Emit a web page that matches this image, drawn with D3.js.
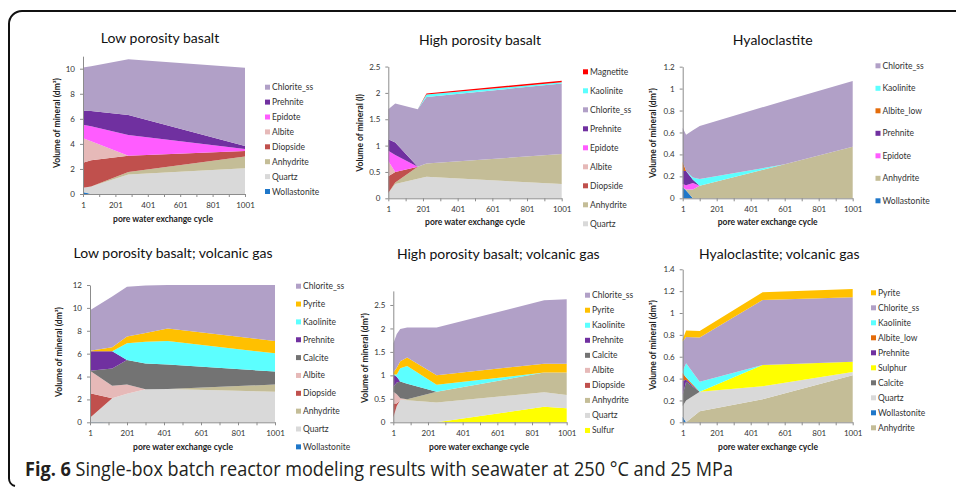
<!DOCTYPE html>
<html>
<head>
<meta charset="utf-8">
<script src="https://cdn.jsdelivr.net/npm/d3@7"></script>
<style>
  body { margin: 0; background: #fff; }
  svg text { font-family: Lato, "Open Sans", sans-serif; }
</style>
</head>
<body>
<svg id="fig" width="956" height="487"></svg>
<script>
// ---- data (stack order bottom -> top) ----
const p1_cycles = [1, 51, 281, 1001];
const p1_minerals = ["Wollastonite", "Quartz", "Anhydrite", "Diopside", "Albite", "Epidote", "Prehnite", "Chlorite_ss"];
const p1_values = [
  [0.15, 0, 0, 0],
  [0.35, 0.6, 1.55, 2.05],
  [0, 0, 0.2, 0.95],
  [2.0, 2.1, 1.3, 0.43],
  [1.95, 1.5, 0, 0],
  [1.08, 1.2, 1.65, 0.17],
  [1.12, 1.22, 1.6, 0.23],
  [3.45, 3.58, 4.45, 6.25]
];

const p2_cycles = [1, 41, 171, 221, 1001];
const p2_minerals = ["Quartz", "Anhydrite", "Diopside", "Albite", "Epidote", "Prehnite", "Chlorite_ss", "Kaolinite", "Magnetite"];
const p2_values = [
  [0.1, 0.27, 0.37, 0.41, 0.27],
  [0, 0.03, 0.23, 0.25, 0.57],
  [0.32, 0.2, 0, 0, 0],
  [0.29, 0, 0, 0, 0],
  [0.19, 0.32, 0, 0, 0],
  [0.22, 0.24, 0, 0, 0],
  [0.57, 0.74, 1.09, 1.26, 1.34],
  [0, 0, 0, 0.05, 0.02],
  [0, 0, 0, 0.02, 0.03]
];

const p3_cycles = [1, 21, 61, 101, 601, 1001];
const p3_minerals = ["Wollastonite", "Anhydrite", "Epidote", "Prehnite", "Albite_low", "Kaolinite", "Chlorite_ss"];
const p3_values = [
  [0.1, 0.07, 0, 0, 0, 0],
  [0, 0.01, 0.08, 0.115, 0.31, 0.47],
  [0.03, 0.04, 0.06, 0, 0, 0],
  [0.12, 0.13, 0.03, 0, 0, 0],
  [0.08, 0, 0, 0, 0, 0],
  [0, 0, 0.02, 0.06, 0, 0],
  [0.31, 0.33, 0.43, 0.485, 0.58, 0.6]
];

const p4_cycles = [1, 121, 201, 301, 421, 1001];
const p4_minerals = ["Wollastonite", "Quartz", "Anhydrite", "Diopside", "Albite", "Calcite", "Prehnite", "Kaolinite", "Pyrite", "Chlorite_ss"];
const p4_values = [
  [0.05, 0, 0, 0, 0, 0],
  [0.35, 2.1, 2.5, 2.88, 2.9, 2.68],
  [0, 0, 0, 0, 0.02, 0.62],
  [2.15, 0, 0, 0, 0, 0],
  [1.95, 1.1, 0.8, 0, 0, 0],
  [0, 1.5, 2.15, 2.27, 2.13, 1.13],
  [1.7, 1.5, 0, 0, 0, 0],
  [0, 0, 1.45, 1.9, 2.05, 1.6],
  [0.05, 0.35, 0.6, 0.75, 1.1, 1.07],
  [3.55, 4.45, 4.35, 4.15, 3.8, 4.9]
];

const p5_cycles = [1, 21, 41, 81, 251, 871, 1001];
const p5_minerals = ["Sulfur", "Quartz", "Anhydrite", "Diopside", "Albite", "Calcite", "Prehnite", "Kaolinite", "Pyrite", "Chlorite_ss"];
const p5_values = [
  [0, 0, 0, 0, 0, 0.33, 0.3],
  [0.1, 0.35, 0.48, 0.47, 0.42, 0.31, 0.28],
  [0, 0, 0, 0.02, 0.23, 0.42, 0.48],
  [0.3, 0.05, 0, 0, 0, 0, 0],
  [0.25, 0.2, 0.03, 0, 0, 0, 0],
  [0.1, 0.25, 0.36, 0.33, 0, 0, 0],
  [0.27, 0.12, 0, 0, 0, 0, 0],
  [0, 0.05, 0.28, 0.38, 0.15, 0, 0],
  [0.04, 0.14, 0.15, 0.18, 0.2, 0.19, 0.19],
  [0.62, 0.72, 0.69, 0.64, 1.02, 1.35, 1.37]
];

const p6_cycles = [1, 21, 101, 471, 1001];
const p6_minerals = ["Anhydrite", "Wollastonite", "Quartz", "Calcite", "Sulphur", "Prehnite", "Albite_low", "Kaolinite", "Chlorite_ss", "Pyrite"];
const p6_values = [
  [0, 0, 0.1, 0.21, 0.43],
  [0.05, 0, 0, 0, 0],
  [0.1, 0.2, 0.18, 0.12, 0.03],
  [0.1, 0.17, 0, 0, 0],
  [0, 0, 0, 0.195, 0.095],
  [0.13, 0.02, 0, 0, 0],
  [0.07, 0.02, 0, 0, 0],
  [0.02, 0.13, 0.09, 0, 0],
  [0.27, 0.24, 0.405, 0.595, 0.59],
  [0.02, 0.06, 0.06, 0.07, 0.075]
];

const titles = ["Low porosity basalt", "High porosity basalt", "Hyaloclastite",
  "Low porosity basalt; volcanic gas", "High porosity basalt; volcanic gas", "Hyaloclastite; volcanic gas"];
const yTicks = [[0, 2, 4, 6, 8, 10], [0, 0.5, 1, 1.5, 2, 2.5], [0, 0.2, 0.4, 0.6, 0.8, 1, 1.2],
  [0, 2, 4, 6, 8, 10, 12], [0, 0.5, 1, 1.5, 2, 2.5], [0, 0.2, 0.4, 0.6, 0.8, 1, 1.2, 1.4]];
const yMax = [11, 2.5, 1.2, 12, 2.8, 1.4];
const yLabels = ["Volume of mineral (dm³)", "Volume of mineral (l)", "Volume of mineral (dm³)",
  "Volume of mineral (dm³)", "Volume of mineral (dm³)", "Volume of mineral (dm³)"];
const xLabel = "pore water exchange cycle";

const colors = {
  Chlorite_ss: "#b1a0c7", Prehnite: "#7030a0", Epidote: "#ff5cff", Albite: "#e6b9b8",
  Diopside: "#c0504d", Anhydrite: "#c4bd97", Quartz: "#d9d9d9", Wollastonite: "#1f77c9",
  Magnetite: "#ff0000", Kaolinite: "#5cffff", Pyrite: "#ffc000", Calcite: "#737373",
  Albite_low: "#e46c0a", Sulfur: "#ffff00", Sulphur: "#ffff00"
};

// ---- layout of each panel ----
const panels = [
  {cycles: p1_cycles, minerals: p1_minerals, values: p1_values, x0: 83, x1: 245, y0: 194, yUnit: 12.53,
   title: [160, 43], xl: [163, 222], yl: [60, 123], lgX: 265, lgY: 87.7, lgStep: 14.9},
  {cycles: p2_cycles, minerals: p2_minerals, values: p2_values, x0: 388.3, x1: 561.7, y0: 198.3, yUnit: 52.7,
   title: [480, 45], xl: [475, 225], yl: [363, 133], lgX: 583, lgY: 72.3, lgStep: 19},
  {cycles: p3_cycles, minerals: p3_minerals, values: p3_values, x0: 682.7, x1: 852.7, y0: 198.3, yUnit: 109.7,
   title: [772.7, 45], xl: [767.7, 225], yl: [656, 133], lgX: 875.5, lgY: 66.3, lgStep: 22.5},
  {cycles: p4_cycles, minerals: p4_minerals, values: p4_values, x0: 90, x1: 275, y0: 422.3, yUnit: 11.44,
   title: [173, 258], xl: [183, 450], yl: [62, 352], lgX: 296, lgY: 286.7, lgStep: 17.85},
  {cycles: p5_cycles, minerals: p5_minerals, values: p5_values, x0: 393.3, x1: 566.7, y0: 422.3, yUnit: 46.93,
   title: [498.3, 259], xl: [479, 450], yl: [368, 358], lgX: 585, lgY: 295.7, lgStep: 15.03},
  {cycles: p6_cycles, minerals: p6_minerals, values: p6_values, x0: 682.7, x1: 852.7, y0: 422.3, yUnit: 109.3,
   title: [779.3, 259], xl: [768, 450], yl: [656, 345], lgX: 871, lgY: 293.3, lgStep: 15}
];

const svg = d3.select("#fig");

// frame (open on the right)
svg.append("path")
  .attr("d", "M956,11 H22 A13,13 0 0 0 9,24 V478 A8,8 0 0 0 15,486")
  .attr("fill", "none").attr("stroke", "#111").attr("stroke-width", 2);

panels.forEach(function(p, k) {
  var g = svg.append("g");
  var x = d3.scaleLinear().domain([1, 1001]).range([p.x0, p.x1]);
  var y = d3.scaleLinear().domain([0, yMax[k]]).range([p.y0, p.y0 - yMax[k] * p.yUnit]);

  var rows = p.cycles.map(function(c, i) {
    var r = {cycle: c};
    p.minerals.forEach(function(m, j) { r[m] = p.values[j][i]; });
    return r;
  });
  var series = d3.stack().keys(p.minerals)(rows);
  var area = d3.area()
    .x(function(d) { return x(d.data.cycle); })
    .y0(function(d) { return y(d[0]); })
    .y1(function(d) { return y(d[1]); });

  g.selectAll("path.layer")
    .data(series)
    .join("path")
      .attr("class", "layer")
      .attr("d", area)
      .attr("fill", function(d) { return colors[d.key]; });

  // axes
  var yAxis = d3.axisLeft(y).tickValues(yTicks[k]).tickSize(3).tickPadding(5).tickSizeOuter(0)
    .tickFormat(function(d) { return d; });
  var xAxis = d3.axisBottom(x).tickValues(d3.range(1, 1002, 100)).tickSize(3).tickPadding(5).tickSizeOuter(0)
    .tickFormat(function(d) { return (d - 1) % 200 === 0 ? d : ""; });

  var ya = g.append("g").attr("transform", "translate(" + p.x0 + ",0)").call(yAxis);
  var xa = g.append("g").attr("transform", "translate(0," + p.y0 + ")").call(xAxis);
  [ya, xa].forEach(function(a) {
    a.select(".domain").attr("stroke", "#8c8c8c");
    a.selectAll(".tick line").attr("stroke", "#8c8c8c");
    a.selectAll(".tick text").attr("fill", "#333").style("font-size", "8px")
      .style("font-family", "Lato, sans-serif");
  });

  // titles and labels
  g.append("text").attr("x", p.title[0]).attr("y", p.title[1])
    .attr("text-anchor", "middle").attr("fill", "#111").style("font-size", "14px")
    .text(titles[k]);
  g.append("text").attr("x", p.xl[0]).attr("y", p.xl[1])
    .attr("text-anchor", "middle").attr("fill", "#222").style("font-size", "8.5px")
    .style("font-weight", "bold").text(xLabel);
  g.append("text")
    .attr("transform", "translate(" + p.yl[0] + "," + p.yl[1] + ") rotate(-90)")
    .attr("text-anchor", "middle").attr("fill", "#222").style("font-size", "8.5px")
    .style("font-weight", "bold").text(yLabels[k]);

  // legend, top entry is the top layer
  var legendItems = p.minerals.slice().reverse();
  var lg = g.selectAll("g.lg").data(legendItems).join("g")
    .attr("class", "lg")
    .attr("transform", function(d, i) { return "translate(" + p.lgX + "," + (p.lgY + i * p.lgStep) + ")"; });
  lg.append("rect").attr("x", 0).attr("y", -3).attr("width", 5).attr("height", 5)
    .attr("fill", function(d) { return colors[d]; });
  lg.append("text").attr("x", 7).attr("y", 2.5).attr("fill", "#333")
    .style("font-size", "8.5px").text(function(d) { return d; });
});

// caption
var cap = svg.append("text").attr("x", 25).attr("y", 476)
  .attr("fill", "#231f20").style("font-size", "20px")
  .style("font-family", "'Open Sans', sans-serif")
  .attr("textLength", 708).attr("lengthAdjust", "spacingAndGlyphs");
cap.append("tspan").style("font-weight", "bold").text("Fig. 6");
cap.append("tspan").text(" Single-box batch reactor modeling results with seawater at 250 °C and 25 MPa");
</script>
</body>
</html>
